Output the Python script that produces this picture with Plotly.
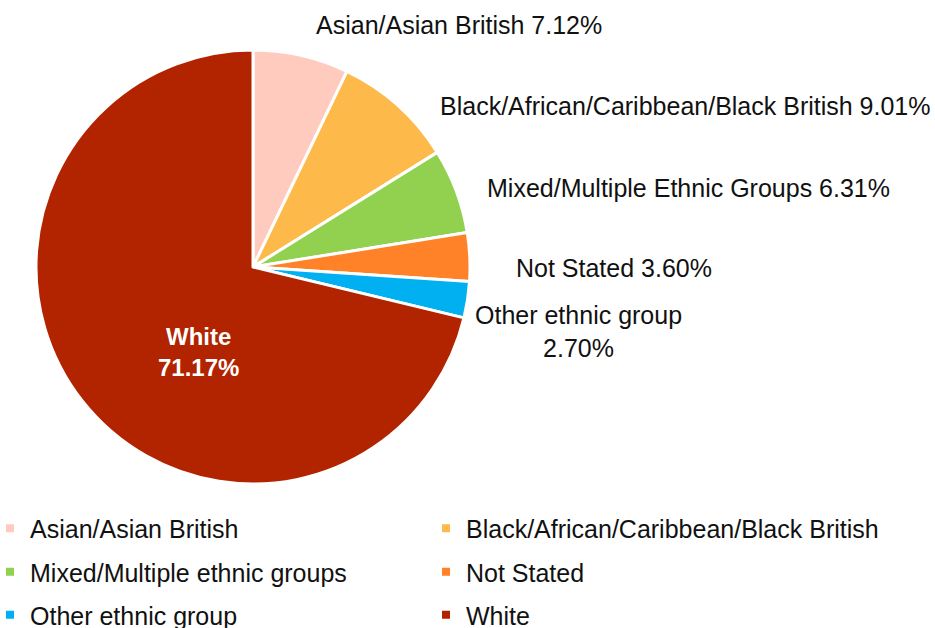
import plotly.graph_objects as go

# Population share by ethnic group (%)
groups = [
    "Asian/Asian British",
    "Black/African/Caribbean/Black British",
    "Mixed/Multiple Ethnic Groups",
    "Not Stated",
    "Other ethnic group",
    "White",
]
legend_names = [
    "Asian/Asian British",
    "Black/African/Caribbean/Black British",
    "Mixed/Multiple ethnic groups",
    "Not Stated",
    "Other ethnic group",
    "White",
]
shares = [7.12, 9.01, 6.31, 3.60, 2.70, 71.17]
colors = ["#FFCBBF", "#FDBA4A", "#92D050", "#FF8229", "#00B0F0", "#B22300"]

W, H = 935, 628
FONT = "Liberation Sans, Arial, sans-serif"


def px(x, y):
    return x / W, 1 - y / H


fig = go.Figure()

# Pie itself
x0, y1 = px(35.5, 50)
x1, y0 = px(470.5, 484)
fig.add_trace(go.Pie(
    labels=groups,
    values=shares,
    sort=False,
    direction="clockwise",
    rotation=0,
    marker=dict(colors=colors, line=dict(color="white", width=3)),
    textinfo="none",
    hoverinfo="label+percent",
    showlegend=False,
    domain=dict(x=[x0, x1], y=[y0, y1]),
))

# Slice labels
label_pos = [(459, 24.5), (685, 106), (688, 187.5), (613.5, 267.5), (578, 331), (198, 352)]
for i, (name, val) in enumerate(zip(groups, shares)):
    lx, ly = px(*label_pos[i])
    if name == "White":
        text = f"<b>{name}<br>{val:.2f}%</b>"
        font = dict(family=FONT, size=24, color="white")
    elif name == "Other ethnic group":
        text = f"{name}<br>{val:.2f}%"
        font = dict(family=FONT, size=25, color="#111111")
    else:
        text = f"{name} {val:.2f}%"
        font = dict(family=FONT, size=25, color="#111111")
    fig.add_annotation(x=lx, y=ly, xref="paper", yref="paper", text=text,
                       showarrow=False, xanchor="center", yanchor="middle",
                       font=font)

# Legend: two columns, three rows, each entry in its own legend box
col_x = [10, 446]
row_y = [528.5, 572, 615]
layout_legends = {}
for i, (name, c) in enumerate(zip(legend_names, colors)):
    key = "legend" if i == 0 else f"legend{i + 1}"
    fig.add_trace(go.Scatter(
        x=[None], y=[None], mode="markers", name=name,
        marker=dict(symbol="square", size=8, color=c),
        legend=key, showlegend=True, hoverinfo="skip",
    ))
    mx = col_x[i % 2]
    my = row_y[i // 2]
    lx, ly = px(mx - 20, my)
    layout_legends[key] = dict(
        x=lx, y=ly, xanchor="left", yanchor="middle",
        bgcolor="rgba(0,0,0,0)", borderwidth=0,
        font=dict(family=FONT, size=25, color="#111111"),
        itemclick=False, itemdoubleclick=False,
    )

fig.update_layout(
    width=W, height=H,
    margin=dict(l=0, r=0, t=0, b=0, autoexpand=False),
    paper_bgcolor="white", plot_bgcolor="white",
    xaxis=dict(visible=False), yaxis=dict(visible=False),
    **layout_legends,
)

fig.write_html("out.html")
